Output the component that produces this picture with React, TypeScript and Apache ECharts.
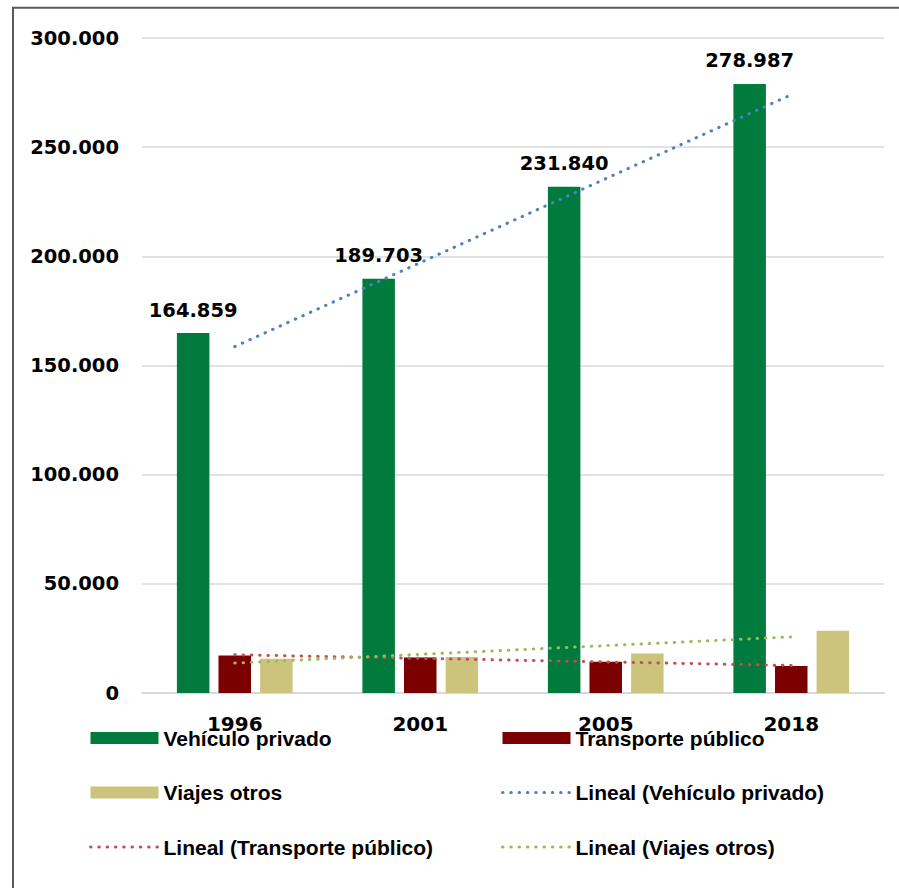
import { useEffect, useRef } from "react";
import * as echarts from "echarts";

const categories = ["1996", "2001", "2005", "2018"];
const vehiculoPrivado = [164859, 189703, 231840, 278987];
const transportePublico = [17200, 16300, 14300, 12400];
const viajesOtros = [15700, 16500, 18100, 28500];
const yTickValues = [0, 50000, 100000, 150000, 200000, 250000, 300000];

const NUM_FONT = "DejaVu Sans";
const TXT_FONT = "Liberation Sans";

const BLUE = "#4F81BD";
const RED = "#C0504D";
const LGREEN = "#9BBB59";

function fmt(v: number): string {
  return String(Math.round(v)).replace(/\B(?=(\d{3})+(?!\d))/g, ".");
}

// Excel-style linear trendline (least squares over category index)
function linearTrend(values: number[]): number[] {
  const n = values.length;
  const xs = values.map((_, i) => i + 1);
  const mx = xs.reduce((a, b) => a + b, 0) / n;
  const my = values.reduce((a, b) => a + b, 0) / n;
  let num = 0;
  let den = 0;
  xs.forEach((x, i) => {
    num += (x - mx) * (values[i] - my);
    den += (x - mx) * (x - mx);
  });
  const slope = num / den;
  return xs.map((x) => my + slope * (x - mx));
}

const dotted = (color: string) => ({
  color,
  width: 3,
  type: [0.5, 7.8] as number[],
  cap: "round" as const,
});

const lineLegendItem = (name: string, color: string) => ({
  name,
  itemStyle: { opacity: 0 },
  lineStyle: dotted(color),
});

export default function App() {
  const ref = useRef<HTMLDivElement>(null);
  useEffect(() => {
    if (!ref.current) return;
    const chart = echarts.init(ref.current, undefined, { renderer: "svg" });
    const legendText = {
      fontFamily: TXT_FONT,
      fontWeight: "bold" as const,
      fontSize: 21,
      color: "#000",
      lineHeight: 24,
    };
    chart.setOption({
      animation: false,
      backgroundColor: "#fff",
      graphic: [
        {
          type: "rect",
          shape: { x: 13, y: 7.7, width: 1000, height: 1000 },
          style: { fill: "none", stroke: "#595959", lineWidth: 2 },
          silent: true,
        },
      ],
      grid: { left: 142, right: 15, top: 38, bottom: 195, containLabel: false },
      legend: [
        {
          orient: "vertical",
          left: 89,
          top: 726,
          padding: 0,
          itemWidth: 68,
          itemHeight: 12,
          itemGap: 30.5,
          textStyle: legendText,
          data: [
            { name: "Vehículo privado", icon: "rect" },
            { name: "Viajes otros", icon: "rect" },
            lineLegendItem("Lineal (Transporte público)", RED),
          ],
        },
        {
          orient: "vertical",
          left: 501,
          top: 726,
          padding: 0,
          itemWidth: 68,
          itemHeight: 12,
          itemGap: 30.5,
          textStyle: legendText,
          data: [
            { name: "Transporte público", icon: "rect" },
            lineLegendItem("Lineal (Vehículo privado)", BLUE),
            lineLegendItem("Lineal (Viajes otros)", LGREEN),
          ],
        },
      ],
      xAxis: {
        type: "category",
        data: categories,
        axisLine: { lineStyle: { color: "#d9d9d9", width: 2 } },
        axisTick: { show: false },
        axisLabel: {
          fontFamily: NUM_FONT,
          fontWeight: "bold",
          fontSize: 20,
          color: "#000",
          margin: 21,
        },
      },
      yAxis: {
        type: "value",
        min: yTickValues[0],
        max: yTickValues[yTickValues.length - 1],
        interval: yTickValues[1] - yTickValues[0],
        axisLine: { show: false },
        axisTick: { show: false },
        splitLine: { lineStyle: { color: "#d9d9d9", width: 1.5 } },
        axisLabel: {
          fontFamily: NUM_FONT,
          fontWeight: "bold",
          fontSize: 19.5,
          color: "#000",
          margin: 23,
          formatter: (v: number) => fmt(v),
        },
      },
      series: [
        {
          name: "Vehículo privado",
          type: "bar",
          data: vehiculoPrivado,
          barWidth: 32.5,
          barGap: "28%",
          itemStyle: { color: "#007A3D" },
          label: {
            show: true,
            position: "top",
            distance: 13,
            fontFamily: NUM_FONT,
            fontWeight: "bold",
            fontSize: 19.5,
            color: "#000",
            formatter: (p: any) => fmt(p.value),
          },
        },
        {
          name: "Transporte público",
          type: "bar",
          data: transportePublico,
          barWidth: 32.5,
          barGap: "28%",
          itemStyle: { color: "#7B0000" },
        },
        {
          name: "Viajes otros",
          type: "bar",
          data: viajesOtros,
          barWidth: 32.5,
          barGap: "28%",
          itemStyle: { color: "#CCC47C" },
        },
        {
          name: "Lineal (Vehículo privado)",
          type: "line",
          data: linearTrend(vehiculoPrivado),
          symbol: "none",
          z: 5,
          itemStyle: { color: BLUE },
          lineStyle: dotted(BLUE),
        },
        {
          name: "Lineal (Transporte público)",
          type: "line",
          data: linearTrend(transportePublico),
          symbol: "none",
          z: 5,
          itemStyle: { color: RED },
          lineStyle: dotted(RED),
        },
        {
          name: "Lineal (Viajes otros)",
          type: "line",
          data: linearTrend(viajesOtros),
          symbol: "none",
          z: 5,
          itemStyle: { color: LGREEN },
          lineStyle: dotted(LGREEN),
        },
      ],
    });
    return () => chart.dispose();
  }, []);
  return (
    <div
      ref={ref}
      style={{ position: "fixed", left: 0, top: 0, width: 899, height: 888 }}
    />
  );
}
